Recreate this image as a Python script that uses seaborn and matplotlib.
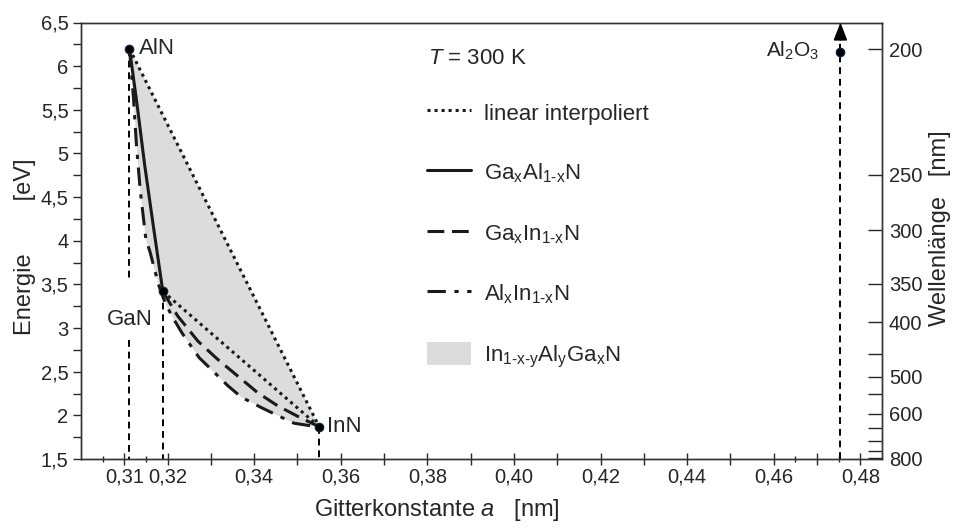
import numpy as np
import pandas as pd
import matplotlib
matplotlib.use("Agg")
import matplotlib.pyplot as plt
from matplotlib.lines import Line2D
from matplotlib.patches import Patch
import seaborn as sns

# ---------------- data ----------------
# binary compounds: lattice constant a [nm], band gap E [eV]
comp_names = ["AlN", "GaN", "InN"]
comp_a = [0.3112, 0.3189, 0.3550]
comp_E = [6.20, 3.42, 1.87]

sub_name = r"Al$_\mathregular{2}$O$_\mathregular{3}$"
sub_a = 0.4754
sub_E = 6.16

# linear interpolation lines
lin1_a = [0.3112, 0.3550]
lin1_E = [6.20, 1.87]
lin2_a = [0.3189, 0.3550]
lin2_E = [3.42, 1.87]

# Ga(x)Al(1-x)N
gaal_a = [0.3112, 0.3130, 0.3147, 0.3167, 0.3189]
gaal_E = [6.20, 5.54, 4.87, 4.17, 3.42]

# Ga(x)In(1-x)N
gain_a = [0.3189, 0.3223, 0.3270, 0.3316, 0.3362, 0.3408, 0.3454, 0.3500, 0.3550]
gain_E = [3.42, 3.14, 2.85, 2.64, 2.45, 2.26, 2.11, 1.99, 1.87]

# Al(x)In(1-x)N
alin_a = [0.3112, 0.3121, 0.3128, 0.3137, 0.3150, 0.3159, 0.3170, 0.3179, 0.3185,
          0.3196, 0.3212, 0.3235, 0.3273, 0.3296, 0.3339, 0.3370, 0.3416, 0.3462,
          0.3492, 0.3531, 0.3550]
alin_E = [6.20, 5.65, 5.10, 4.57, 4.01, 3.88, 3.67, 3.50, 3.41,
          3.27, 3.12, 2.93, 2.66, 2.55, 2.34, 2.21, 2.09, 1.98,
          1.91, 1.88, 1.87]

# right axis: wavelength labels and their energy positions
wl_labels = ["200", "250", "300", "350", "400", "500", "600", "800"]
wl_pos = [6.196, 4.757, 4.12, 3.51, 3.068, 2.443, 2.02, 1.508]
wl_minor_pos = [2.706, 2.24, 1.85, 1.706, 1.59]

x_major = [0.31, 0.32, 0.33, 0.34, 0.35, 0.36, 0.37, 0.38, 0.39, 0.40,
           0.41, 0.42, 0.43, 0.44, 0.45, 0.46, 0.47, 0.48]
x_labels = ["0,31", "0,32", "", "0,34", "", "0,36", "", "0,38", "", "0,40",
            "", "0,42", "", "0,44", "", "0,46", "", "0,48"]
x_minor = [0.305, 0.315, 0.465, 0.475]
y_major = [1.5, 2, 2.5, 3, 3.5, 4, 4.5, 5, 5.5, 6, 6.5]
y_labels = ["1,5", "2", "2,5", "3", "3,5", "4", "4,5", "5", "5,5", "6", "6,5"]
y_minor = [1.75, 2.25, 2.75, 3.25, 3.75, 4.25, 4.75, 5.25, 5.75, 6.25]

# ---------------- style ----------------
sns.set_theme(style="ticks")
plt.rcParams["font.family"] = ["Liberation Sans", "DejaVu Sans"]
plt.rcParams["mathtext.fontset"] = "custom"
plt.rcParams["mathtext.rm"] = "Liberation Sans"
plt.rcParams["mathtext.it"] = "Liberation Sans:italic"
plt.rcParams["axes.linewidth"] = 1.0

ink = "#1a1a1a"
fs = 14.5
lfs = 16

fig = plt.figure(figsize=(9.61, 5.29), dpi=100)
ax = fig.add_axes([81/961, 1-459/529, (882-81)/961, (459-22.5)/529])
ax.set_xlim(0.30, 0.485)
ax.set_ylim(1.5, 6.5)

# shaded quaternary region
poly_a = alin_a + lin1_a[::-1]
poly_E = alin_E + lin1_E[::-1]
ax.fill(poly_a, poly_E, color="#dcdcdc", lw=0, zorder=1)

# vertical guide lines
vdash = (0, (3.5, 2.5))
ax.plot([comp_a[0], comp_a[0]], [6.2, 3.55], color="black", lw=1.4, ls=vdash, zorder=2)
ax.plot([comp_a[0], comp_a[0]], [2.86, 1.5], color="black", lw=1.4, ls=vdash, zorder=2)
ax.plot([comp_a[1], comp_a[1]], [comp_E[1], 1.5], color="black", lw=1.4, ls=vdash, zorder=2)
ax.plot([comp_a[2], comp_a[2]], [comp_E[2], 1.5], color="black", lw=1.4, ls=vdash, zorder=2)
ax.plot([sub_a, sub_a], [1.5, 6.38], color="black", lw=1.4, ls=vdash, zorder=2)
ax.annotate("", xy=(sub_a, 6.5), xytext=(sub_a, 6.3),
            arrowprops=dict(arrowstyle="-|>,head_length=0.9,head_width=0.35",
                            color="black", lw=1.2, shrinkA=0, shrinkB=0), zorder=3)

dotted = (0, (1.0, 1.3))
dashed = (0, (5.5, 2.5))
dashdot = (0, (6, 2.8, 1.4, 2.8))
sns.lineplot(x=lin1_a, y=lin1_E, sort=False, estimator=None, color=ink, lw=2.2,
             linestyle=dotted, ax=ax, zorder=3)
sns.lineplot(x=lin2_a, y=lin2_E, sort=False, estimator=None, color=ink, lw=2.2,
             linestyle=dotted, ax=ax, zorder=3)
sns.lineplot(x=gaal_a, y=gaal_E, sort=False, estimator=None, color=ink, lw=2.2,
             linestyle="-", ax=ax, zorder=4)
sns.lineplot(x=gain_a, y=gain_E, sort=False, estimator=None, color=ink, lw=2.2,
             linestyle=dashed, ax=ax, zorder=4)
sns.lineplot(x=alin_a, y=alin_E, sort=False, estimator=None, color=ink, lw=2.2,
             linestyle=dashdot, ax=ax, zorder=4)

pts = pd.DataFrame({"a": comp_a + [sub_a], "E": comp_E + [sub_E]})
sns.scatterplot(data=pts, x="a", y="E", color="black", s=38, edgecolor="#102040",
                linewidth=0.8, ax=ax, zorder=6)

# compound labels
ax.annotate(comp_names[0], (comp_a[0], comp_E[0]), xytext=(7, 0), textcoords="offset points",
            ha="left", va="center", fontsize=lfs)
ax.annotate(comp_names[1], (comp_a[1], comp_E[1]), xytext=(-7, -20), textcoords="offset points",
            ha="right", va="center", fontsize=lfs)
ax.annotate(comp_names[2], (comp_a[2], comp_E[2]), xytext=(6, 0), textcoords="offset points",
            ha="left", va="center", fontsize=lfs)
ax.annotate(sub_name, (sub_a, sub_E), xytext=(-15, 1), textcoords="offset points",
            ha="right", va="center", fontsize=15)

# axes ticks
ax.set_xticks(x_major)
ax.set_xticklabels(x_labels, fontsize=fs)
ax.set_xticks(x_minor, minor=True)
ax.set_yticks(y_major)
ax.set_yticklabels(y_labels, fontsize=fs)
ax.set_yticks(y_minor, minor=True)
ax.tick_params(axis="x", which="major", direction="inout", length=8, width=1, pad=2)
ax.tick_params(axis="x", which="minor", direction="inout", length=5, width=1)
ax.tick_params(axis="y", which="major", direction="out", length=6, width=1, pad=3)
ax.tick_params(axis="y", which="minor", direction="out", length=6, width=1)
for s in ax.spines.values():
    s.set_visible(True)
    s.set_linewidth(1.0)
    s.set_color("#333333")

ax.set_xlabel(r"Gitterkonstante $\mathit{a}$   [nm]", fontsize=17)
ax.xaxis.set_label_coords((437-81)/801, -(497-459)/436.5)
ax.set_ylabel("Energie        [eV]", fontsize=17)
ax.yaxis.set_label_coords(-(81-36)/801, (459-247)/436.5)

# right wavelength axis
ax2 = ax.twinx()
ax2.set_ylim(ax.get_ylim())
ax2.set_yticks(wl_pos)
ax2.set_yticklabels(wl_labels, fontsize=fs)
ax2.set_yticks(wl_minor_pos, minor=True)
ax2.tick_params(axis="y", which="both", direction="in", length=10, width=1, pad=5)
ax2.set_ylabel("Wellenlänge   [nm]", fontsize=17)
ax2.yaxis.set_label_coords((929-81)/801, (459-228)/436.5)
for s in ax2.spines.values():
    s.set_color("#333333")

# title-like annotation of the legend
ax.text((428-81)/801, (459-58)/436.5, r"$\mathit{T}$ = 300 K", transform=ax.transAxes,
        ha="left", va="center", fontsize=lfs)

# legend
handles = [
    Line2D([], [], color=ink, lw=2.2, linestyle=dotted),
    Line2D([], [], color=ink, lw=2.2, linestyle="-"),
    Line2D([], [], color=ink, lw=2.2, linestyle=dashed),
    Line2D([], [], color=ink, lw=2.2, linestyle=dashdot),
    Patch(facecolor="#dcdcdc", edgecolor="none"),
]
labels = [
    "linear interpoliert",
    r"Ga$_\mathregular{x}$Al$_\mathregular{1\text{-}x}$N",
    r"Ga$_\mathregular{x}$In$_\mathregular{1\text{-}x}$N",
    r"Al$_\mathregular{x}$In$_\mathregular{1\text{-}x}$N",
    r"In$_\mathregular{1\text{-}x\text{-}y}$Al$_\mathregular{y}$Ga$_\mathregular{x}$N",
]
leg = ax.legend(handles, labels, loc="upper left",
                bbox_to_anchor=((427-81)/801, (459-101)/436.5),
                frameon=False, fontsize=lfs, handlelength=2.0, handletextpad=0.55,
                labelspacing=1.62, borderpad=0, borderaxespad=0,
                handleheight=1.2)

fig.savefig("out.png", dpi=100)
